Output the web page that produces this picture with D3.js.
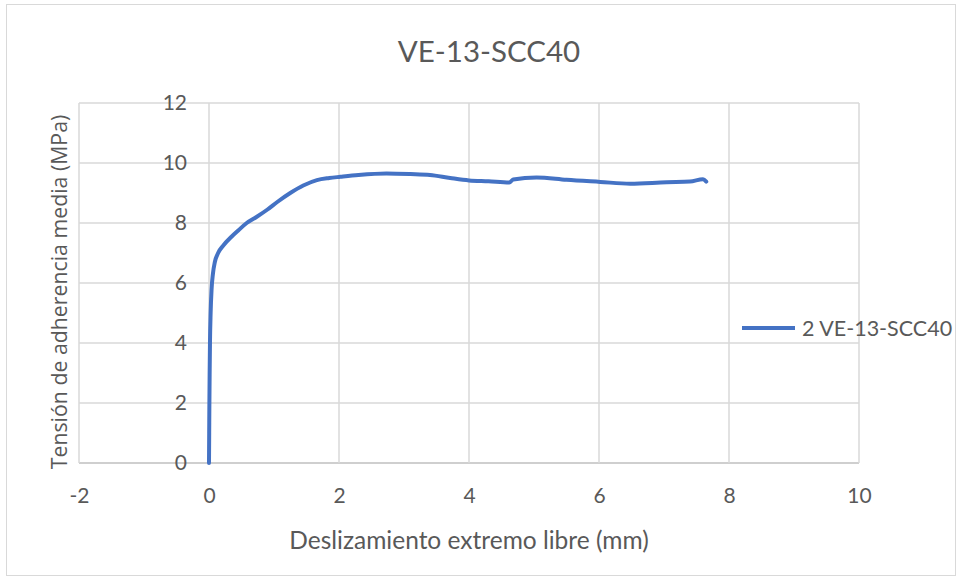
<!DOCTYPE html>
<html><head><meta charset="utf-8">
<script src="https://cdn.jsdelivr.net/npm/d3@7"></script>
<style>body{margin:0;background:#fff}svg{display:block}</style>
</head><body>
<svg id="c" width="962" height="580"></svg>
<script>
const title = "VE-13-SCC40";
const seriesName = "2 VE-13-SCC40";
const xLabel = "Deslizamiento extremo libre (mm)";
const yLabel = "Tensión de adherencia media (MPa)";
const xTicks = [-2, 0, 2, 4, 6, 8, 10];
const yTicks = [0, 2, 4, 6, 8, 10, 12];
const slip = [0,0.003,0.006,0.01,0.015,0.025,0.04,0.06,0.09,0.14,0.22,0.35,0.45,0.58,0.73,0.9,1.05,1.25,1.45,1.66,1.85,2.02,2.3,2.73,3.1,3.4,3.71,4.0,4.3,4.62,4.68,5.04,5.5,6.02,6.48,7.04,7.4,7.6,7.65];
const stress = [0,1,2,3,4,5,5.8,6.3,6.7,7.0,7.25,7.55,7.75,8.0,8.2,8.45,8.7,9.0,9.25,9.43,9.5,9.54,9.6,9.65,9.63,9.6,9.5,9.42,9.39,9.35,9.45,9.52,9.44,9.37,9.31,9.36,9.38,9.46,9.38];

const svg = d3.select("#c");
const txt = "#595959";
const font = "Lato, 'Open Sans', sans-serif";
svg.append("rect").attr("x",6.5).attr("y",4.5).attr("width",949).attr("height",571)
  .attr("fill","#fff").attr("stroke","#d9d9d9");

const x = d3.scaleLinear().domain([-2,10]).range([79,859]);
const y = d3.scaleLinear().domain([0,12]).range([463,103]);

const g = svg.append("g");
g.selectAll(".gy").data(yTicks).join("line")
  .attr("x1",x(-2)).attr("x2",x(10)).attr("y1",d=>y(d)).attr("y2",d=>y(d))
  .attr("stroke",d=>d===0?"#bfbfbf":"#d9d9d9").attr("stroke-width",1.5);
g.selectAll(".gx").data(xTicks).join("line")
  .attr("y1",y(0)).attr("y2",y(12)).attr("x1",d=>x(d)).attr("x2",d=>x(d))
  .attr("stroke","#d9d9d9").attr("stroke-width",1.5);

const xa = svg.append("g").attr("transform",`translate(0,${y(0)})`)
  .call(d3.axisBottom(x).tickValues(xTicks).tickFormat(d=>String(d)).tickSize(0).tickPadding(25));
xa.select(".domain").remove();
xa.selectAll("text").attr("fill",txt).attr("font-size",21).attr("font-family",font);

const ya = svg.append("g").attr("transform",`translate(${x(0)},0)`)
  .call(d3.axisLeft(y).tickValues(yTicks).tickFormat(d=>String(d)).tickSize(0).tickPadding(22));
ya.select(".domain").remove();
ya.selectAll("text").attr("fill",txt).attr("font-size",21).attr("font-family",font);

const pts = slip.map((s,i)=>[s,stress[i]]);
svg.append("path").datum(pts)
  .attr("d", d3.line().x(d=>x(d[0])).y(d=>y(d[1])).curve(d3.curveMonotoneX))
  .attr("fill","none").attr("stroke","#4472C4").attr("stroke-width",4)
  .attr("stroke-linejoin","round").attr("stroke-linecap","round");

svg.append("text").attr("x",489).attr("y",62).attr("text-anchor","middle")
  .attr("fill",txt).attr("font-size",29.5).attr("font-family",font).text(title);
svg.append("text").attr("x",469).attr("y",549).attr("text-anchor","middle")
  .attr("fill",txt).attr("font-size",24.5).attr("font-family",font).text(xLabel);
svg.append("text").attr("transform","translate(67,292) rotate(-90)").attr("text-anchor","middle")
  .attr("fill",txt).attr("font-size",21.3).attr("font-family","'Open Sans', sans-serif").text(yLabel);

svg.append("line").attr("x1",742).attr("x2",795).attr("y1",328).attr("y2",328)
  .attr("stroke","#4472C4").attr("stroke-width",4);
svg.append("text").attr("x",802).attr("y",336).attr("fill",txt).attr("font-size",21.5)
  .attr("font-family",font).text(seriesName);
</script>
</body></html>
